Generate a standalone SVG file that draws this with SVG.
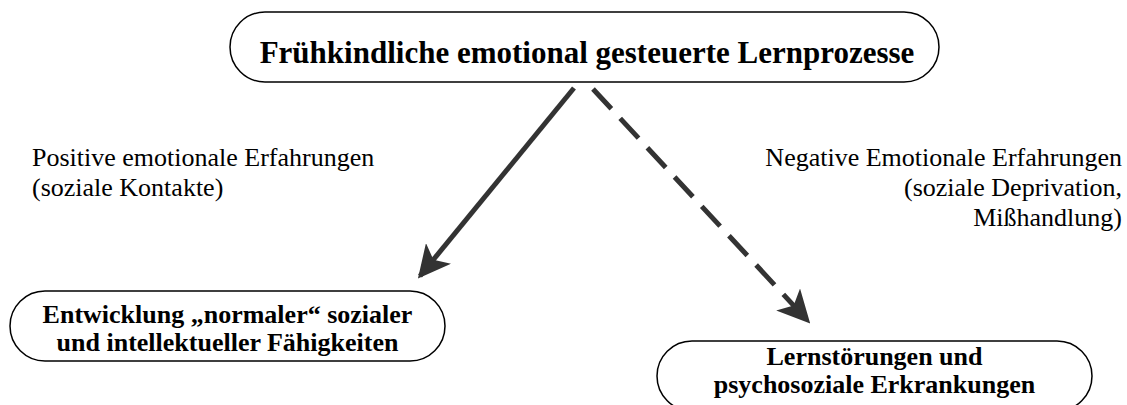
<svg xmlns="http://www.w3.org/2000/svg" width="1127" height="405" viewBox="0 0 1127 405">
<defs>
<style>
.box{fill:#fff;stroke:#000;stroke-width:1.5}
.bt{font-family:"Liberation Serif","Times New Roman",serif;font-weight:bold;fill:#000;text-anchor:middle}
.lbl{font-family:"Liberation Serif","Times New Roman",serif;font-size:26px;fill:#000}
.arr{stroke:#333;stroke-width:5;fill:none}
</style>
<marker id="ah" viewBox="0 0 10 10" refX="9" refY="5" markerWidth="6.5" markerHeight="6.5" markerUnits="strokeWidth" orient="auto">
<path d="M0,0 L10,5 L0,10 L2.5,5 z" fill="#333"/>
</marker>
</defs>
<rect width="1127" height="405" fill="#fff"/>
<g id="connectors">
<line class="arr" x1="574" y1="88" x2="420" y2="276" marker-end="url(#ah)"/>
<line class="arr" x1="593" y1="89" x2="808" y2="321" stroke-dasharray="27 13" marker-end="url(#ah)"/>
</g>
<g id="node-top">
<rect class="box" x="230" y="12" width="709" height="70" rx="35" ry="35"/>
<text class="bt" x="587" y="63" font-size="31">Frühkindliche emotional gesteuerte Lernprozesse</text>
</g>
<g id="node-left">
<rect class="box" x="10" y="291" width="435" height="70" rx="35" ry="35"/>
<text class="bt" x="227.5" y="323" font-size="26">Entwicklung „normaler“ sozialer</text>
<text class="bt" x="227.5" y="351" font-size="26">und intellektueller Fähigkeiten</text>
</g>
<g id="node-right">
<rect class="box" x="657" y="341" width="435" height="70" rx="35" ry="35"/>
<text class="bt" x="874.5" y="365" font-size="26">Lernstörungen und</text>
<text class="bt" x="874.5" y="393" font-size="26">psychosoziale Erkrankungen</text>
</g>
<g id="label-left">
<text class="lbl" x="32" y="166">Positive emotionale Erfahrungen</text>
<text class="lbl" x="32" y="196">(soziale Kontakte)</text>
</g>
<g id="label-right">
<text class="lbl" x="1122" y="166" text-anchor="end">Negative Emotionale Erfahrungen</text>
<text class="lbl" x="1122" y="196" text-anchor="end">(soziale Deprivation,</text>
<text class="lbl" x="1122" y="226" text-anchor="end">Mißhandlung)</text>
</g>
</svg>
